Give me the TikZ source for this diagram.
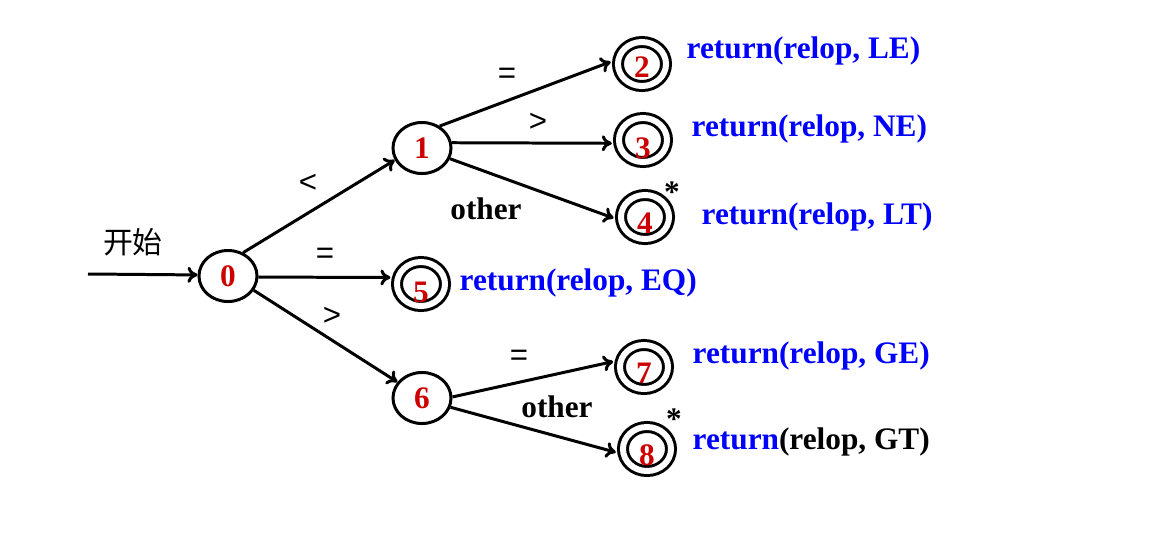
\documentclass[tikz,border=0pt]{standalone}
\usepackage{fontspec}
\setmainfont{Liberation Serif}
\newfontfamily\symfont{Liberation Sans}
\newfontfamily\cjkfont{Noto Sans CJK SC}
\usetikzlibrary{arrows.meta,shapes.geometric}
\definecolor{statered}{RGB}{204,0,0}
\definecolor{actblue}{RGB}{0,0,255}
% digits inside accepting states sit a little low
\newcommand\lowdigit[2][0.06cm]{\raisebox{-#1}[\height][0pt]{#2}}
\tikzset{
  x=0.01cm, y=-0.01cm,
  state/.style={ellipse, draw, line width=0.85pt, minimum width=0.58cm,
    minimum height=0.51cm, inner sep=0pt, text=statered,
    font=\fontsize{8.9}{10}\selectfont\bfseries},
  accept/.style={state, double, double distance=0.6mm, minimum width=0.48cm,
    minimum height=0.44cm, outer sep=2.1pt},
  edge/.style={line width=0.85pt, -{To[length=1mm,width=1.6mm]}},
  sym/.style={inner sep=0pt, font=\symfont\fontsize{8.9}{10}\selectfont},
  word/.style={inner sep=0pt, font=\fontsize{8.9}{10}\selectfont\bfseries},
  action/.style={word, anchor=west, text=actblue},
  star/.style={inner sep=0pt, font=\fontsize{8.9}{10}\selectfont\bfseries},
}
\begin{document}
\begin{tikzpicture}
\useasboundingbox (0,0) rectangle (1159,539);

% states
\node[state]  (n0) at (228,276) {0};
\node[state]  (n1) at (422,148) {1};
\node[accept] (n2) at (642,64)  {\lowdigit[0.03cm]{2}};
\node[accept] (n3) at (643,140) {\lowdigit[0.08cm]{3}};
\node[accept] (n4) at (645,217) {\lowdigit{4}};
\node[accept] (n5) at (421,284) {\lowdigit[0.08cm]{5}};
\node[state]  (n6) at (422,398) {6};
\node[accept] (n7) at (644,367) {\lowdigit{7}};
\node[accept] (n8) at (647,449) {\lowdigit{8}};

% start arrow
\coordinate (start) at (88,274);
\node[inner sep=0pt, font=\cjkfont\fontsize{8.5}{10}\selectfont] (startlbl) at (133,242) {开始};
\draw[edge] (start) -- (n0.178);

% transitions
\draw[edge] (n0.57)  -- (n1.204);
\draw[edge] (n0.358) -- (n5.168);
\draw[edge] (n0.331) -- (n6.147);
\draw[edge] (n1.51)  -- (n2.176);
\draw[edge] (n1.10)  -- (n3.186);
\draw[edge] (n1.339) -- (n4.182);
\draw[edge] (n6.2)   -- (n7.170);
\draw[edge] (n6.342) -- (n8.186);

% transition labels
\node[sym] (l01) at (308,183) {<};
\node[sym] (l05) at (325,256) {=};
\node[sym] (l06) at (332,316) {>};
\node[sym] (l12) at (507,76)  {=};
\node[sym] (l13) at (538,122) {>};
\node[word] (l14) at (486,209) {other};
\node[sym] (l67) at (519,358) {=};
\node[word] (l68) at (557,407) {other};

% retract markers
\node[star] (s4) at (672,192) {*};
\node[star] (s8) at (674,419) {*};

% actions
\node[action] (a2) at (686,51)  {return(relop, LE)};
\node[action] (a3) at (691,129) {return(relop, NE)};
\node[action] (a4) at (701,217) {return(relop, LT)};
\node[action] (a5) at (459,283) {return(relop, EQ)};
\node[action] (a7) at (692,356) {return(relop, GE)};
\node[action] (a8) at (692,442) {return\textcolor{black}{(relop, GT)}};
\end{tikzpicture}
\end{document}
